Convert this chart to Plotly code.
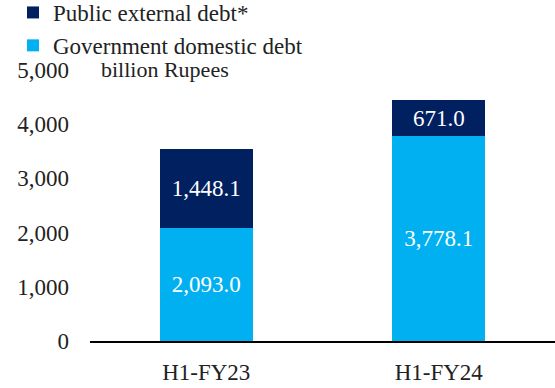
import plotly.graph_objects as go

categories = ["H1-FY23", "H1-FY24"]
domestic = [2093.0, 3778.1]
external = [1448.1, 671.0]
domestic_labels = ["2,093.0", "3,778.1"]
external_labels = ["1,448.1", "671.0"]
y_ticks = [0, 1000, 2000, 3000, 4000, 5000]
y_tick_labels = ["0", "1,000", "2,000", "3,000", "4,000", "5,000"]

FONT = "Liberation Serif"
TXT = "#222222"

fig = go.Figure()
fig.add_trace(go.Bar(
    x=categories, y=domestic, name="Government domestic debt",
    marker=dict(color="#00B0F0", line=dict(width=0)),
    text=domestic_labels, textposition="inside", insidetextanchor="middle",
    textfont=dict(color="white", size=23, family=FONT),
))
fig.add_trace(go.Bar(
    x=categories, y=external, name="Public external debt*",
    marker=dict(color="#002060", line=dict(width=0)),
    text=external_labels, textposition="inside", insidetextanchor="middle",
    textfont=dict(color="white", size=23, family=FONT),
))

# pixel helpers for the plot area (l=90, t=70, w=465, h=271)
def px_x(p):
    return (p - 90) / 465

def px_y(p):
    return (341 - p) / 271

fig.update_layout(
    barmode="stack",
    bargap=0.6,
    width=555, height=388,
    margin=dict(l=90, r=0, t=70, b=47, autoexpand=False),
    paper_bgcolor="white", plot_bgcolor="white",
    font=dict(family=FONT, size=23, color=TXT),
    legend=dict(
        x=px_x(13), y=px_y(-9), xanchor="left", yanchor="top",
        traceorder="reversed",
        font=dict(size=23, family=FONT, color=TXT),
        bgcolor="rgba(0,0,0,0)",
        itemwidth=30,
    ),
    annotations=[dict(
        text="billion Rupees", x=px_x(165), y=px_y(69),
        xref="paper", yref="paper", xanchor="center", yanchor="middle",
        showarrow=False, font=dict(size=22, family=FONT, color=TXT),
    )],
)

fig.update_xaxes(
    showline=True, linecolor="black", linewidth=2,
    showgrid=False, ticks="", ticklabelstandoff=9,
    tickfont=dict(size=23, family=FONT, color=TXT),
)
fig.update_yaxes(
    range=[0, 5000], tickvals=y_ticks, ticktext=y_tick_labels,
    showgrid=False, showline=False, zeroline=False, ticks="",
    ticklabelstandoff=20,
    tickfont=dict(size=23, family=FONT, color=TXT),
)

fig.write_html("out.html")
